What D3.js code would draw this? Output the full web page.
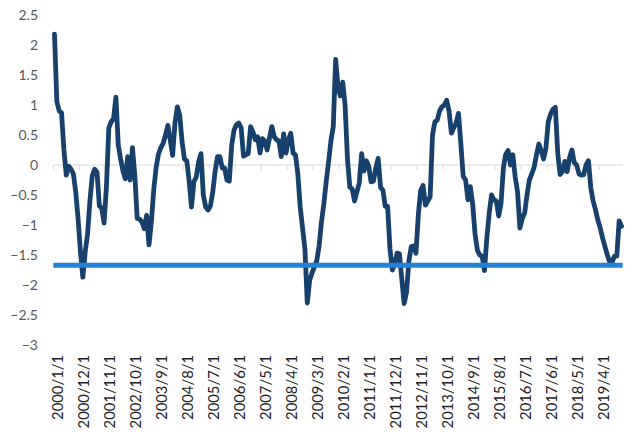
<!DOCTYPE html>
<html>
<head>
<meta charset="utf-8">
<script src="https://cdn.jsdelivr.net/npm/d3@7"></script>
<style>
  html, body { margin: 0; padding: 0; background: #ffffff; }
  svg { display: block; }
</style>
</head>
<body>
<svg id="chart" width="638" height="436"></svg>
<script>
// ---- data ----
const startYear = 2000;
const monthCount = 241; // 2000/1 .. 2020/1
const categories = [];
for (let k = 0; k < monthCount; k++) {
  const yy = startYear + Math.floor(k / 12);
  const mm = (k % 12) + 1;
  categories.push(yy + "/" + mm + "/1");
}

const seriesValues = [
  2.18, 1.06, 0.90, 0.87, 0.25, -0.17, -0.02, -0.07, -0.15, -0.45,
  -0.90, -1.45, -1.87, -1.45, -1.15, -0.60, -0.18, -0.07, -0.12, -0.68,
  -0.72, -0.97, -0.35, 0.62, 0.72, 0.77, 1.13, 0.33, 0.10, -0.10,
  -0.23, 0.14, -0.25, 0.29, -0.17, -0.89, -0.90, -0.95, -1.06, -0.84,
  -1.33, -0.95, -0.42, -0.05, 0.18, 0.29, 0.36, 0.50, 0.66, 0.42,
  0.16, 0.70, 0.97, 0.83, 0.39, 0.10, 0.07, -0.27, -0.70, -0.28,
  -0.20, 0.05, 0.19, -0.50, -0.70, -0.75, -0.68, -0.45, -0.10, 0.14,
  0.14, -0.05, -0.05, -0.25, -0.27, 0.33, 0.58, 0.67, 0.70, 0.62,
  0.15, 0.17, 0.19, 0.64, 0.55, 0.42, 0.47, 0.20, 0.44, 0.40,
  0.25, 0.45, 0.64, 0.47, 0.42, 0.40, 0.14, 0.52, 0.20, 0.42,
  0.53, 0.20, 0.17, -0.15, -0.70, -1.05, -1.40, -2.30, -1.92, -1.80,
  -1.70, -1.60, -1.35, -0.95, -0.65, -0.28, 0.05, 0.40, 0.64, 1.76,
  1.30, 1.15, 1.38, 1.00, 0.10, -0.37, -0.40, -0.60, -0.45, -0.30,
  0.19, -0.10, 0.07, -0.02, -0.28, -0.27, -0.05, 0.11, -0.37, -0.42,
  -0.69, -0.69, -1.40, -1.75, -1.65, -1.47, -1.48, -1.90, -2.31, -2.12,
  -1.60, -1.36, -1.35, -1.47, -0.83, -0.42, -0.34, -0.67, -0.60, -0.53,
  0.50, 0.72, 0.75, 0.90, 0.97, 1.00, 1.08, 0.90, 0.53, 0.62,
  0.70, 0.86, 0.35, -0.19, -0.25, -0.58, -0.36, -0.65, -1.15, -1.42,
  -1.50, -1.52, -1.76, -1.22, -0.80, -0.50, -0.58, -0.60, -0.85, -0.64,
  -0.05, 0.18, 0.24, 0.00, 0.17, -0.20, -0.45, -1.05, -0.89, -0.80,
  -0.50, -0.25, -0.15, -0.04, 0.17, 0.35, 0.24, 0.10, 0.28, 0.72,
  0.85, 0.93, 0.96, 0.20, -0.16, -0.11, 0.06, -0.11, 0.12, 0.25,
  0.04, 0.00, -0.15, -0.17, -0.16, 0.00, 0.07, -0.38, -0.60, -0.75,
  -0.92, -1.05, -1.22, -1.36, -1.50, -1.62, -1.62, -1.52, -1.52, -0.93,
  -1.02
];

const thresholdValue = -1.67;

const yTickValues = [2.5, 2, 1.5, 1, 0.5, 0, -0.5, -1, -1.5, -2, -2.5, -3];
const xTickLabels = [
  "2000/1/1", "2000/12/1", "2001/11/1", "2002/10/1", "2003/9/1", "2004/8/1",
  "2005/7/1", "2006/6/1", "2007/5/1", "2008/4/1", "2009/3/1", "2010/2/1",
  "2011/1/1", "2011/12/1", "2012/11/1", "2013/10/1", "2014/9/1", "2015/8/1",
  "2016/7/1", "2017/6/1", "2018/5/1", "2019/4/1"
];

// ---- layout ----
const plotLeft = 53.3, plotRight = 622.7;
const svg = d3.select("#chart");
const FONT = "Lato, 'Noto Sans', sans-serif";

const x = d3.scaleBand()
  .domain(categories)
  .range([plotLeft, plotRight])
  .paddingInner(0).paddingOuter(0);
const y = d3.scaleLinear().domain([-3, 2.5]).range([345, 15]);

const cx = c => x(c) + x.bandwidth() / 2;

// y-axis labels
const yAxis = d3.axisLeft(y)
  .tickValues(yTickValues)
  .tickSize(0)
  .tickPadding(0)
  .tickFormat(d => d3.format("")(d));
const gy = svg.append("g")
  .attr("transform", "translate(38,0)")
  .call(yAxis);
gy.select(".domain").remove();
gy.selectAll("text")
  .attr("fill", "#595959")
  .style("font-family", FONT)
  .style("font-size", "14px");

// zero axis line with ticks
const tickCats = xTickLabels.map(l => categories.indexOf(l));
const gx = svg.append("g")
  .attr("transform", "translate(0," + y(0) + ")");
gx.append("line")
  .attr("x1", plotLeft).attr("x2", plotRight)
  .attr("y1", 0).attr("y2", 0)
  .attr("stroke", "#d9d9d9").attr("stroke-width", 1);
gx.selectAll("line.tick")
  .data(tickCats)
  .enter().append("line")
  .attr("class", "tick")
  .attr("x1", d => x(categories[d])).attr("x2", d => x(categories[d]))
  .attr("y1", 0).attr("y2", 5)
  .attr("stroke", "#d9d9d9").attr("stroke-width", 1);

// x labels (rotated)
svg.append("g").selectAll("text")
  .data(xTickLabels)
  .enter().append("text")
  .attr("transform", d => "translate(" + (cx(d) + 2.5) + ",355) rotate(-90)")
  .attr("text-anchor", "end")
  .attr("dominant-baseline", "central")
  .attr("fill", "#1f1f1f")
  .style("font-family", FONT)
  .style("font-size", "14.8px")
  .text(d => d);

// series line
const line = d3.line()
  .x((d, i) => cx(categories[i]))
  .y(d => y(d));
svg.append("path")
  .datum(seriesValues)
  .attr("d", line)
  .attr("fill", "none")
  .attr("stroke", "#17406d")
  .attr("stroke-width", 4.8)
  .attr("stroke-linejoin", "round")
  .attr("stroke-linecap", "round");

// threshold line
svg.append("line")
  .attr("x1", plotLeft).attr("x2", plotRight)
  .attr("y1", y(thresholdValue)).attr("y2", y(thresholdValue))
  .attr("stroke", "#2382d8")
  .attr("stroke-width", 5);
</script>
</body>
</html>
